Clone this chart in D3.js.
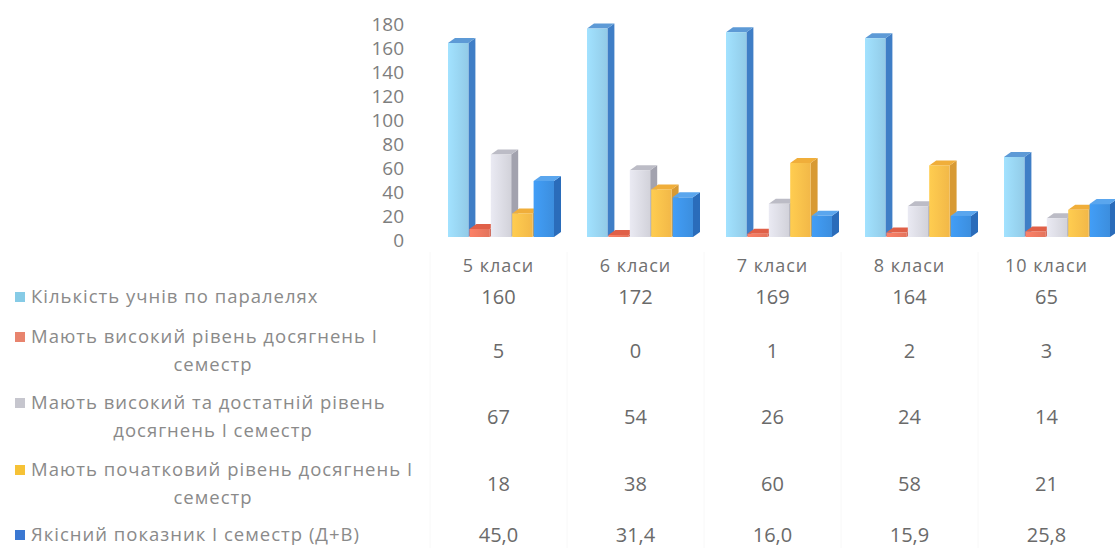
<!DOCTYPE html>
<html>
<head>
<meta charset="utf-8">
<script src="https://cdnjs.cloudflare.com/ajax/libs/d3/7.8.5/d3.min.js"></script>
<style>
  body { margin: 0; background: #fff; }
  text { font-family: "Open Sans", "Liberation Sans", sans-serif; }
</style>
</head>
<body>
<div id="chart"></div>
<script>
// data
const categories = ["5 класи", "6 класи", "7 класи", "8 класи", "10 класи"];
const pupils = [160, 172, 169, 164, 65];
const highLevel = [5, 0, 1, 2, 3];
const highSuffLevel = [67, 54, 26, 24, 14];
const initialLevel = [18, 38, 60, 58, 21];
const qualityIndex = [45.0, 31.4, 16.0, 15.9, 25.8];
const seriesLabels = [
  ["Кількість учнів по паралелях"],
  ["Мають високий рівень досягнень І", "семестр"],
  ["Мають високий та достатній рівень", "досягнень І семестр"],
  ["Мають початковий рівень досягнень І", "семестр"],
  ["Якісний показник І семестр (Д+В)"]
];

const W = 1115, H = 548;
const series = [pupils, highLevel, highSuffLevel, initialLevel, qualityIndex];
const decimals = [0, 0, 0, 0, 1];

// colours: front, side, top, legend key
const colors = [
  { front: "#9ad6f4", side: "#3f7ec6", top: "#5d9ad6", key: "#86cbe6" },
  { front: "#f07a62", side: "#c8503e", top: "#e06048", key: "#e8846e" },
  { front: "#dedee6", side: "#a2a2ae", top: "#bcbcc6", key: "#c6c6ce" },
  { front: "#ffc24c", side: "#d89a34", top: "#f0ae3a", key: "#f6c236" },
  { front: "#3f96ea", side: "#2a6cba", top: "#5aa6ee", key: "#3b78d2" }
];

const DEPTH_X = 7, DEPTH_Y = 5, LIFT = 5, FLOOR = 237;

const svg = d3.select("#chart").append("svg")
  .attr("width", W)
  .attr("height", H);

const defs = svg.append("defs");
colors.forEach(function (c, i) {
  const g = defs.append("linearGradient")
    .attr("id", "front" + i)
    .attr("x1", "0").attr("x2", "1").attr("y1", "0").attr("y2", "0");
  g.append("stop").attr("offset", "0").attr("stop-color", d3.color(c.front).brighter(0.15));
  g.append("stop").attr("offset", "1").attr("stop-color", d3.color(c.front).darker(0.15));
});

const y = d3.scaleLinear().domain([0, 180]).range([240, 24]);

// table columns
const x = d3.scaleBand().domain(categories).range([430, 1115]);
// bar groups drift slightly wider than the table columns (perspective)
const xBars = d3.scaleBand().domain(categories).range([431, 1126]);
const xInner = d3.scaleBand().domain(d3.range(series.length)).range([17, 124]);

// y axis
const yAxis = svg.append("g")
  .attr("transform", "translate(408,0)")
  .call(d3.axisLeft(y).ticks(9).tickSize(0).tickPadding(4));
yAxis.select(".domain").remove();
yAxis.selectAll("text")
  .style("font-family", "'Open Sans', sans-serif")
  .style("font-size", "19px")
  .attr("fill", "#7e7e7e");

// 3D columns
const bars = svg.append("g");
categories.forEach(function (cat, ci) {
  series.forEach(function (vals, si) {
    const v = vals[ci];
    const x0 = xBars(cat) + xInner(si);
    const w = xInner.bandwidth() - 1;
    const yt = Math.min(y(v) - LIFT, FLOOR - 2);
    const c = colors[si];
    const g = bars.append("g");
    // side
    g.append("path")
      .attr("d", "M" + (x0 + w) + "," + FLOOR +
        "L" + (x0 + w) + "," + yt +
        "L" + (x0 + w + DEPTH_X) + "," + (yt - DEPTH_Y) +
        "L" + (x0 + w + DEPTH_X) + "," + (FLOOR - DEPTH_Y) + "Z")
      .attr("fill", c.side);
    // top
    g.append("path")
      .attr("d", "M" + x0 + "," + yt +
        "L" + (x0 + DEPTH_X) + "," + (yt - DEPTH_Y) +
        "L" + (x0 + w + DEPTH_X) + "," + (yt - DEPTH_Y) +
        "L" + (x0 + w) + "," + yt + "Z")
      .attr("fill", c.top);
    // front
    g.append("rect")
      .attr("x", x0)
      .attr("y", yt)
      .attr("width", w)
      .attr("height", FLOOR - yt)
      .attr("fill", "url(#front" + si + ")");
  });
});

// faint data table grid
const grid = svg.append("g").attr("stroke", "#f8f8f8").attr("stroke-width", 1);
categories.forEach(function (cat) {
  grid.append("line")
    .attr("x1", x(cat)).attr("x2", x(cat))
    .attr("y1", 252).attr("y2", H);
});

// data table header
svg.append("g").selectAll("text")
  .data(categories)
  .enter().append("text")
  .attr("x", d => x(d) + x.bandwidth() / 2)
  .attr("y", 266)
  .attr("dy", "0.35em")
  .attr("text-anchor", "middle")
  .attr("fill", "#707070")
  .style("font-size", "18px")
  .style("letter-spacing", "1px")
  .text(d => d);

const rowY = [297, 351, 417, 484, 535];
const table = svg.append("g");

series.forEach(function (vals, si) {
  const lines = seriesLabels[si];
  const ry = rowY[si];
  const ly0 = lines.length > 1 ? ry - 14 : ry;

  table.append("rect")
    .attr("x", 15)
    .attr("y", ly0 - 5)
    .attr("width", 10)
    .attr("height", 10)
    .attr("fill", colors[si].key);

  lines.forEach(function (line, li) {
    table.append("text")
      .attr("x", li === 0 ? 31 : 213)
      .attr("y", ly0 + li * 28)
      .attr("dy", "0.35em")
      .attr("text-anchor", li === 0 ? "start" : "middle")
      .attr("fill", "#8a8a8a")
      .style("font-size", "18.5px")
      .style("letter-spacing", "1px")
      .text(line);
  });

  vals.forEach(function (v, ci) {
    table.append("text")
      .attr("x", x(categories[ci]) + x.bandwidth() / 2)
      .attr("y", ry)
      .attr("dy", "0.35em")
      .attr("text-anchor", "middle")
      .attr("fill", "#6a6a6a")
      .style("font-size", "20px")
      .text(v.toFixed(decimals[si]).replace(".", ","));
  });
});
</script>
</body>
</html>
